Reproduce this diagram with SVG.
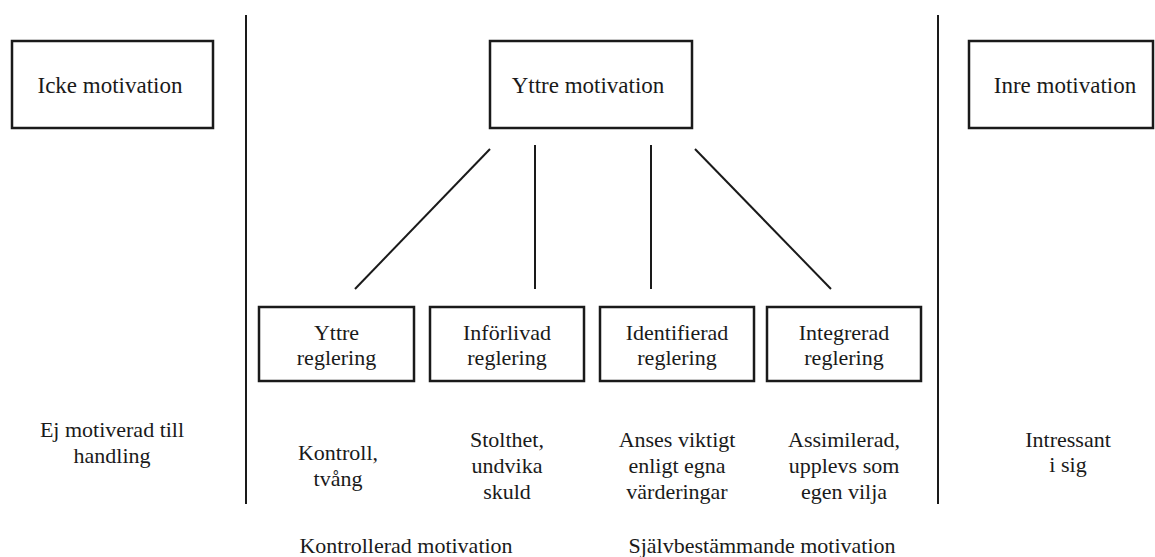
<svg xmlns="http://www.w3.org/2000/svg" width="1155" height="557" viewBox="0 0 1155 557">
  <style>
    .box { fill: #ffffff; stroke: #1a1a1a; stroke-width: 2.5; }
    .line { stroke: #1a1a1a; stroke-width: 2; fill: none; }
    text { font-family: "Liberation Serif", "Times New Roman", serif; fill: #1a1a1a; text-anchor: middle; }
    .big { font-size: 23px; }
    .lbl { font-size: 22px; }
  </style>
  <rect width="1155" height="557" fill="#ffffff"/>

  <!-- column dividers -->
  <g id="dividers">
    <line class="line" x1="246" y1="15" x2="246" y2="504"/>
    <line class="line" x1="938" y1="15" x2="938" y2="504"/>
  </g>

  <!-- connectors from the top node to the four regulation types -->
  <g id="connectors">
    <line class="line" x1="490" y1="149" x2="355" y2="289"/>
    <line class="line" x1="535" y1="145" x2="535" y2="289"/>
    <line class="line" x1="651" y1="145" x2="651" y2="289"/>
    <line class="line" x1="695" y1="149" x2="831" y2="289"/>
  </g>

  <g id="icke-motivation">
    <rect class="box" x="12" y="41" width="201" height="87"/>
    <text class="big" x="110" y="93">Icke motivation</text>
  </g>

  <g id="yttre-motivation">
    <rect class="box" x="490" y="41" width="202" height="87"/>
    <text class="big" x="588" y="93">Yttre motivation</text>
  </g>

  <g id="inre-motivation">
    <rect class="box" x="969" y="41" width="184" height="87"/>
    <text class="big" x="1065" y="93">Inre motivation</text>
  </g>

  <g id="yttre-reglering">
    <rect class="box" x="259" y="307" width="155" height="74"/>
    <text class="lbl" x="336.5" y="340">Yttre</text>
    <text class="lbl" x="336.5" y="365">reglering</text>
  </g>

  <g id="inforlivad-reglering">
    <rect class="box" x="430" y="307" width="154" height="74"/>
    <text class="lbl" x="507" y="340">Införlivad</text>
    <text class="lbl" x="507" y="365">reglering</text>
  </g>

  <g id="identifierad-reglering">
    <rect class="box" x="600" y="307" width="154" height="74"/>
    <text class="lbl" x="677" y="340">Identifierad</text>
    <text class="lbl" x="677" y="365">reglering</text>
  </g>

  <g id="integrerad-reglering">
    <rect class="box" x="767" y="307" width="154" height="74"/>
    <text class="lbl" x="844" y="340">Integrerad</text>
    <text class="lbl" x="844" y="365">reglering</text>
  </g>

  <!-- descriptions under each column -->
  <g id="descriptions">
    <text class="lbl" x="112" y="437">Ej motiverad till</text>
    <text class="lbl" x="112" y="463">handling</text>

    <text class="lbl" x="338" y="460">Kontroll,</text>
    <text class="lbl" x="338" y="486">tvång</text>

    <text class="lbl" x="507" y="447">Stolthet,</text>
    <text class="lbl" x="507" y="473">undvika</text>
    <text class="lbl" x="507" y="499">skuld</text>

    <text class="lbl" x="677" y="447">Anses viktigt</text>
    <text class="lbl" x="677" y="473">enligt egna</text>
    <text class="lbl" x="677" y="499">värderingar</text>

    <text class="lbl" x="844" y="447">Assimilerad,</text>
    <text class="lbl" x="844" y="473">upplevs som</text>
    <text class="lbl" x="844" y="499">egen vilja</text>

    <text class="lbl" x="1068" y="447">Intressant</text>
    <text class="lbl" x="1068" y="472">i sig</text>
  </g>

  <!-- group labels along the bottom -->
  <g id="groups">
    <text class="lbl" x="406" y="553">Kontrollerad motivation</text>
    <text class="lbl" x="762" y="553">Självbestämmande motivation</text>
  </g>
</svg>
